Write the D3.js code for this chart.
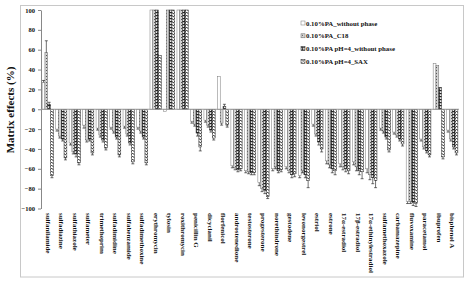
<!DOCTYPE html>
<html>
<head>
<meta charset="utf-8">
<script src="https://cdn.jsdelivr.net/npm/d3@7"></script>
<style>
  body { margin: 0; background: #fff; }
  svg text { font-family: "Liberation Serif", "Times New Roman", serif; font-weight: bold; }
</style>
</head>
<body>
<div id="chart"></div>
<script>
// categories along the x axis
const compounds = ["sulfanilamide", "sulfadiazine", "sulfathiazole", "sulfameter", "trimethoprim",
    "sulfadimidine", "sulfabenzamide", "sulfadimethoxine", "erythromycin", "tylosin", "roxithromycin",
    "penicillin G", "dicyclanil", "florfenicol", "androstenedione", "testosterone", "progesterone",
    "norethindrone", "gestodene", "levonorgestrel", "estriol", "estrone", "17α-estradiol",
    "17β-estradiol", "17α-ethinylestradiol", "sulfamethoxazole", "carbamazepine", "fluvoxamine",
    "paracetamol", "ibuprofen", "bisphenol A"];

const seriesNames = ["0.10%PA_without phase", "0.10%PA_C18", "0.10%PA pH=4_without phase", "0.10%PA pH=4_SAX"];

// matrix effects (%)
const withoutPhase = [27, -20, -34, -16, -19, -18, -17, -18, 100, -2, 100, -12, -11, 33, -57, -62,
    -74, -60, -58, -67, -15, -52, -55, -53, -60, -19, -23, -93, -30, 46, -21];
const c18 = [57, -27, -43, -31, -26, -22, -25, -22, 100, 100, 100, -15, -16, -14, -59, -63,
    -80, -58, -62, -62, -25, -56, -58, -58, -66, -22, -26, -93, -38, 44, -30];
const ph4WithoutPhase = [5, -30, -45, -30, -31, -28, -34, -28, 100, 100, 100, -24, -21, 3, -61, -64,
    -82, -62, -66, -66, -33, -60, -60, -62, -69, -28, -30, -94, -42, 22, -38];
const ph4Sax = [-67, -49, -54, -44, -39, -46, -53, -54, 54, 100, 100, -38, -29, -16, -60, -64,
    -88, -61, -65, -72, -40, -62, -62, -63, -72, -41, -35, -95, -46, -48, -44];

// standard deviations (error bars)
const errWithoutPhase = [2, 2, 2, 3, 2, 2, 2, 2, 0, 0, 0, 2, 2, 0, 2, 2, 3, 2, 2, 2, 2, 3, 3, 3, 4, 2, 2, 2, 2, 0, 2];
const errC18 = [12, 2, 2, 2, 2, 2, 2, 2, 0, 0, 0, 2, 2, 2, 2, 2, 3, 2, 2, 2, 2, 3, 3, 4, 5, 2, 2, 2, 2, 0, 2];
const errPh4WithoutPhase = [2, 2, 3, 2, 2, 2, 2, 2, 0, 0, 0, 3, 2, 2, 2, 2, 3, 2, 3, 3, 3, 4, 3, 4, 6, 2, 2, 3, 2, 0, 2];
const errPh4Sax = [2, 2, 2, 2, 2, 2, 2, 2, 0, 0, 0, 4, 2, 2, 2, 2, 2, 2, 3, 7, 3, 4, 3, 7, 7, 2, 2, 3, 2, 2, 2];

const yTicks = [100, 80, 60, 40, 20, 0, -20, -40, -60, -80, -100];

const allValues = [withoutPhase, c18, ph4WithoutPhase, ph4Sax];
const allErrors = [errWithoutPhase, errC18, errPh4WithoutPhase, errPh4Sax];

const width = 468, height = 290;

const svg = d3.select("#chart").append("svg")
    .attr("width", width)
    .attr("height", height);

// fill patterns
const defs = svg.append("defs");

let p = defs.append("pattern").attr("id", "pat1").attr("patternUnits", "userSpaceOnUse")
    .attr("width", 3).attr("height", 3);
p.append("rect").attr("width", 3).attr("height", 3).attr("fill", "#fff");

p = defs.append("pattern").attr("id", "pat2").attr("patternUnits", "userSpaceOnUse")
    .attr("width", 3).attr("height", 3);
p.append("rect").attr("width", 3).attr("height", 3).attr("fill", "#d4d4d4");
p.append("rect").attr("x", 1).attr("y", 1).attr("width", 1).attr("height", 1).attr("fill", "#555");

p = defs.append("pattern").attr("id", "pat3").attr("patternUnits", "userSpaceOnUse")
    .attr("width", 3).attr("height", 3);
p.append("rect").attr("width", 3).attr("height", 3).attr("fill", "#e8e8e8");
p.append("rect").attr("x", 0).attr("y", 0).attr("width", 3).attr("height", 1.2).attr("fill", "#222");
p.append("rect").attr("x", 1).attr("y", 1.2).attr("width", 1).attr("height", 1.8).attr("fill", "#444");

p = defs.append("pattern").attr("id", "pat4").attr("patternUnits", "userSpaceOnUse")
    .attr("width", 3).attr("height", 3);
p.append("rect").attr("width", 3).attr("height", 3).attr("fill", "#fff");
p.append("path").attr("d", "M0,0L3,2").attr("stroke", "#111").attr("stroke-width", 0.9);

const fills = ["url(#pat1)", "url(#pat2)", "url(#pat3)", "url(#pat4)"];
const strokes = ["#777", "#666", "#222", "#222"];

// outer chart border
svg.append("rect")
    .attr("x", 20.5).attr("y", 5.5)
    .attr("width", 443).attr("height", 271.5)
    .attr("fill", "none")
    .attr("stroke", "#c8c8c8");

const x = d3.scaleBand()
    .domain(compounds)
    .range([41, 459]);

const xs = d3.scaleBand()
    .domain(d3.range(4))
    .range([0, x.bandwidth()])
    .paddingOuter(0.4);

const y = d3.scaleLinear()
    .domain([-100, 100])
    .range([208.5, 10]);

// y axis
const yAxis = d3.axisLeft(y)
    .tickValues(yTicks)
    .tickSize(3)
    .tickSizeOuter(0);

const gy = svg.append("g")
    .attr("transform", "translate(41,0)")
    .call(yAxis);
gy.select(".domain").attr("stroke", "#888");
gy.selectAll(".tick line").attr("stroke", "#888");
gy.selectAll(".tick text")
    .attr("font-size", 6.5)
    .attr("x", -6)
    .attr("fill", "#111");

// bars
const groups = svg.append("g").selectAll("g")
    .data(allValues)
    .join("g");

groups.selectAll("rect")
    .data((vals, s) => vals.map((v, i) => ({s: s, i: i, v: v})))
    .join("rect")
    .attr("x", d => x(compounds[d.i]) + xs(d.s))
    .attr("y", d => y(Math.max(0, d.v)))
    .attr("width", xs.bandwidth())
    .attr("height", d => Math.abs(y(d.v) - y(0)))
    .attr("fill", d => fills[d.s])
    .attr("stroke", d => strokes[d.s])
    .attr("stroke-width", 0.5);

// error bars
const errData = [];
allValues.forEach((vals, s) => {
    vals.forEach((v, i) => {
        let e = allErrors[s][i];
        if (e > 0) errData.push({s: s, i: i, v: v, e: e});
    });
});

const eb = svg.append("g").selectAll("g")
    .data(errData)
    .join("g")
    .attr("transform", d => "translate(" + (x(compounds[d.i]) + xs(d.s) + xs.bandwidth() / 2) + ",0)");

eb.append("line")
    .attr("y1", d => y(d.v))
    .attr("y2", d => y(d.v + (d.v >= 0 ? d.e : -d.e)))
    .attr("stroke", "#111")
    .attr("stroke-width", 0.6);
eb.append("line")
    .attr("x1", -1.5).attr("x2", 1.5)
    .attr("y1", d => y(d.v + (d.v >= 0 ? d.e : -d.e)))
    .attr("y2", d => y(d.v + (d.v >= 0 ? d.e : -d.e)))
    .attr("stroke", "#111")
    .attr("stroke-width", 0.6);

// x axis line at zero
svg.append("line")
    .attr("x1", 41).attr("x2", 459)
    .attr("y1", y(0)).attr("y2", y(0))
    .attr("stroke", "#999")
    .attr("stroke-width", 1);

// category labels, rotated
svg.append("g").selectAll("text")
    .data(compounds)
    .join("text")
    .attr("transform", d => "translate(" + (x(d) + x.bandwidth() / 2 - 2) + ",213) rotate(90)")
    .attr("font-size", 7)
    .attr("fill", "#111")
    .text(d => d);

// y title
svg.append("text")
    .attr("transform", "translate(14,110) rotate(-90)")
    .attr("text-anchor", "middle")
    .attr("font-size", 11)
    .attr("fill", "#111")
    .text("Matrix effects (%)");

// legend
const legend = svg.append("g").selectAll("g")
    .data(seriesNames)
    .join("g")
    .attr("transform", (d, i) => "translate(301," + (21 + i * 12.8) + ")");

legend.append("rect")
    .attr("width", 4).attr("height", 4)
    .attr("fill", (d, i) => fills[i])
    .attr("stroke", (d, i) => strokes[i])
    .attr("stroke-width", 0.5);

legend.append("text")
    .attr("x", 5)
    .attr("y", 4.5)
    .attr("font-size", 6.8)
    .attr("fill", "#111")
    .text(d => d);
</script>
</body>
</html>
